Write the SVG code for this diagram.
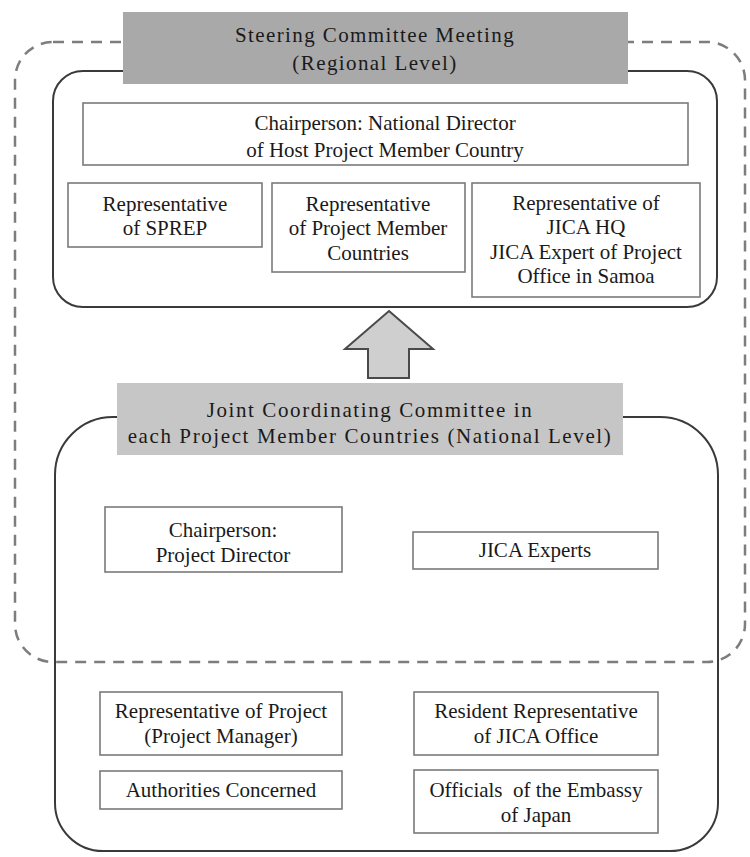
<svg xmlns="http://www.w3.org/2000/svg" width="750" height="857" viewBox="0 0 750 857">
<style>
text{font-family:"Liberation Serif","Times New Roman",serif;font-size:21px;fill:#1a1a1a;text-anchor:middle}
.title{letter-spacing:1.4px}
.title2{letter-spacing:1.6px}
.box{fill:#fff;stroke:#7a7a7a;stroke-width:1.6}
.frame{fill:none;stroke:#3a3a3a;stroke-width:2}
.dash{fill:none;stroke:#7d7d7d;stroke-width:2.5;stroke-dasharray:11 8}
</style>
<rect width="750" height="857" fill="#fff"/>
<g id="regional-scope">
<rect class="dash" x="15" y="42" width="730" height="620" rx="38"/>
</g>
<g id="steering-committee">
<rect class="frame" x="53" y="71" width="664" height="236" rx="30"/>
<rect x="123" y="12" width="505" height="72" fill="#a9a9a9"/>
<text class="title" x="375" y="42">Steering Committee Meeting</text>
<text class="title" x="375" y="70">(Regional Level)</text>
</g>
<g id="chairperson-regional">
<rect class="box" x="83" y="103" width="605" height="62"/>
<text x="385" y="130">Chairperson: National Director</text>
<text x="385" y="157">of Host Project Member Country</text>
</g>
<g id="rep-sprep">
<rect class="box" x="68" y="183" width="194" height="64"/>
<text x="165" y="211">Representative</text>
<text x="165" y="235">of SPREP</text>
</g>
<g id="rep-member-countries">
<rect class="box" x="272" y="183" width="193" height="89"/>
<text x="368" y="211">Representative</text>
<text x="368" y="235">of Project Member</text>
<text x="368" y="260">Countries</text>
</g>
<g id="rep-jica">
<rect class="box" x="472" y="183" width="228" height="114"/>
<text x="586" y="210">Representative of</text>
<text x="586" y="234">JICA HQ</text>
<text x="586" y="259">JICA Expert of Project</text>
<text x="586" y="283">Office in Samoa</text>
</g>
<g id="connectors">
<polygon points="389,311 433,349 409,349 409,378 368,378 368,349 345,349" fill="#cfcfcf" stroke="#4a4a4a" stroke-width="2" stroke-linejoin="miter"/>
</g>
<g id="joint-coordinating-committee">
<path class="frame" d="M113 417 H660 A58 58 0 0 1 718 475 V803 A48 48 0 0 1 670 851 H103 A48 48 0 0 1 55 803 V475 A58 58 0 0 1 113 417 Z"/>
<rect x="117" y="383" width="506" height="72" fill="#c6c6c6"/>
<text class="title2" x="370" y="417">Joint Coordinating Committee in</text>
<text class="title2" x="370" y="443">each Project Member Countries (National Level)</text>
</g>
<g id="chairperson-national">
<rect class="box" x="105" y="507" width="237" height="65"/>
<text x="223" y="537">Chairperson:</text>
<text x="223" y="562">Project Director</text>
</g>
<g id="jica-experts">
<rect class="box" x="413" y="532" width="245" height="37"/>
<text x="535" y="557">JICA Experts</text>
</g>
<g id="rep-project">
<rect class="box" x="100" y="692" width="242" height="63"/>
<text x="221" y="718">Representative of Project</text>
<text x="221" y="743">(Project Manager)</text>
</g>
<g id="authorities">
<rect class="box" x="100" y="771" width="242" height="38"/>
<text x="221" y="797">Authorities Concerned</text>
</g>
<g id="resident-rep">
<rect class="box" x="414" y="692" width="244" height="63"/>
<text x="536" y="718">Resident Representative</text>
<text x="536" y="743">of JICA Office</text>
</g>
<g id="embassy">
<rect class="box" x="414" y="770" width="244" height="63"/>
<text x="536" y="797" xml:space="preserve">Officials  of the Embassy</text>
<text x="536" y="822">of Japan</text>
</g>
</svg>
